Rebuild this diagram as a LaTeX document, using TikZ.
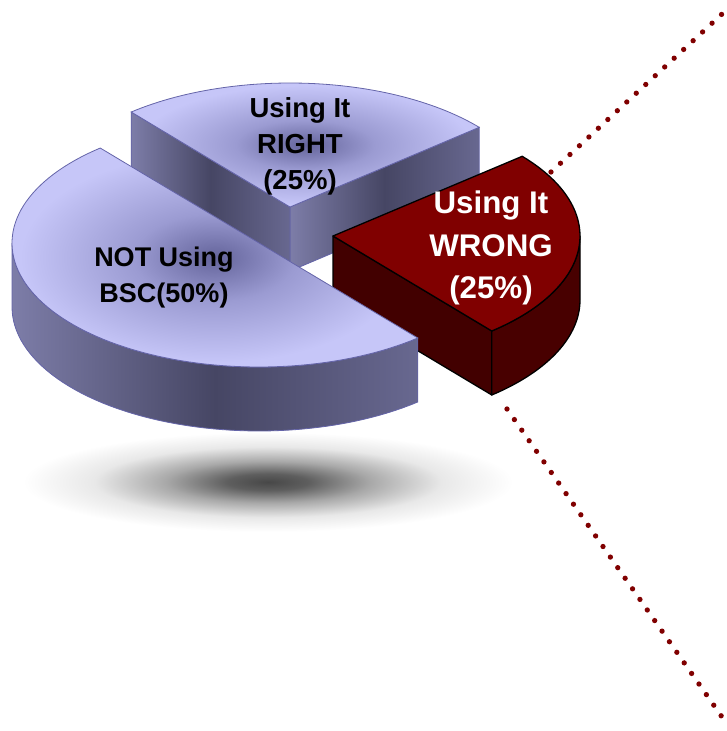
\documentclass[tikz,border=0pt]{standalone}
\usepackage{fontspec}
\setmainfont{Liberation Sans}
\definecolor{lavlight}{RGB}{198,198,248}
\definecolor{lavmid}{RGB}{155,155,210}
\definecolor{lavdark}{RGB}{100,100,155}
\definecolor{sidelight}{RGB}{125,125,168}
\definecolor{sidedark}{RGB}{70,70,100}
\definecolor{sidemid}{RGB}{104,104,144}
\definecolor{lavedge}{RGB}{100,100,168}
\definecolor{wrongtop}{RGB}{128,0,0}
\definecolor{wrongside}{RGB}{66,0,0}
\definecolor{wrongside2}{RGB}{72,0,0}
\definecolor{dotred}{RGB}{128,0,0}
\pgfdeclareradialshading{shadowsh}{\pgfpoint{0bp}{0bp}}{color(0bp)=(black!72); color(4bp)=(black!63); color(10bp)=(black!34); color(17bp)=(black!9); color(24bp)=(white); color(50bp)=(white)}
\pgfdeclareradialshading{topsh}{\pgfpoint{0bp}{0bp}}{color(0bp)=(lavdark); color(10bp)=(lavmid); color(24bp)=(lavlight); color(50bp)=(lavlight)}
\tikzset{
  topface/.style={draw=lavedge, line width=0.8pt, shading=topsh},
  cutface/.style={draw=lavedge, line width=0.8pt, left color=sidelight, right color=sidemid, middle color=sidedark},
  wrongedge/.style={draw=black, line width=1.3pt, line join=round},
  lbl/.style={align=center, inner sep=0pt, font=\bfseries\fontsize{27.5}{36}\selectfont, text=black},
  lbln/.style={align=center, inner sep=0pt, font=\bfseries\fontsize{27}{36}\selectfont, text=black},
  lblw/.style={align=center, inner sep=0pt, font=\bfseries\fontsize{31.3}{42.5}\selectfont, text=white},
  dotline/.style={draw=dotred, line width=5.3pt, line cap=round, dash pattern=on 0pt off 12.9pt}
}
\begin{document}
\begin{tikzpicture}[x=1pt,y=-1pt]
\useasboundingbox (0,0) rectangle (726,731);
% shadow
\coordinate (shc) at (268,482);
\shade[shading=shadowsh] (shc) ellipse [x radius=255, y radius=52];
% RIGHT slice
\coordinate (rc) at (290,207);
\coordinate (rcb) at (290,271);
\coordinate (rl) at (131.2,112.0);
\coordinate (rlb) at (131.2,176.0);
\coordinate (rr) at (479.2,127.3);
\coordinate (rrb) at (479.2,191.3);
\shadedraw[cutface] (rc) -- (rr) -- (rrb) -- (rcb) -- cycle;
\shadedraw[cutface] (rl) -- (rc) -- (rcb) -- (rlb) -- cycle;
\shadedraw[topface] (rc) -- plot[domain=-130:-40, samples=60] ({290+247*cos(\x)},{207+124*sin(\x)}) -- cycle;
% WRONG slice
\coordinate (wc) at (333,236);
\coordinate (wcb) at (333,300);
\coordinate (wf) at (491.8,331.0);
\coordinate (wfb) at (491.8,395.0);
\coordinate (wr) at (580,236);
\filldraw[wrongedge, fill=wrongside] (wc) -- (wf) -- (wfb) -- (wcb) -- cycle;
\filldraw[wrongedge, fill=wrongside2] (wr) -- plot[domain=0:50, samples=40] ({333+247*cos(\x)},{236+124*sin(\x)}) -- (wfb) -- plot[domain=50:0, samples=40] ({333+247*cos(\x)},{300+124*sin(\x)}) -- cycle;
\filldraw[wrongedge, fill=wrongtop] (wc) -- plot[domain=-40:50, samples=60] ({333+247*cos(\x)},{236+124*sin(\x)}) -- cycle;
% NOT slice
\coordinate (nc) at (259,243);
\coordinate (nf) at (417.8,338.0);
\coordinate (nfb) at (417.8,402.0);
\coordinate (nlb) at (12,307);
\shadedraw[cutface] (nf) -- plot[domain=50:180, samples=60] ({259+247*cos(\x)},{243+124*sin(\x)}) -- (nlb) -- plot[domain=180:50, samples=60] ({259+247*cos(\x)},{307+124*sin(\x)}) -- cycle;
\shadedraw[topface] (nc) -- plot[domain=50:230, samples=90] ({259+247*cos(\x)},{243+124*sin(\x)}) -- cycle;
% labels
\node[lbl] (tright) at (300,146) {Using It\\RIGHT\\(25\%)};
\node[lbln] (tnot) at (164,278) {NOT Using\\BSC(50\%)};
\node[lblw] (twrong) at (491,248) {Using It\\WRONG\\(25\%)};
% dotted lines
\coordinate (d1a) at (551,172);
\coordinate (d1b) at (722,14);
\coordinate (d2a) at (507,409);
\coordinate (d2b) at (722,717);
\draw[dotline] (d1a) -- (d1b);
\draw[dotline] (d2a) -- (d2b);
\end{tikzpicture}
\end{document}
